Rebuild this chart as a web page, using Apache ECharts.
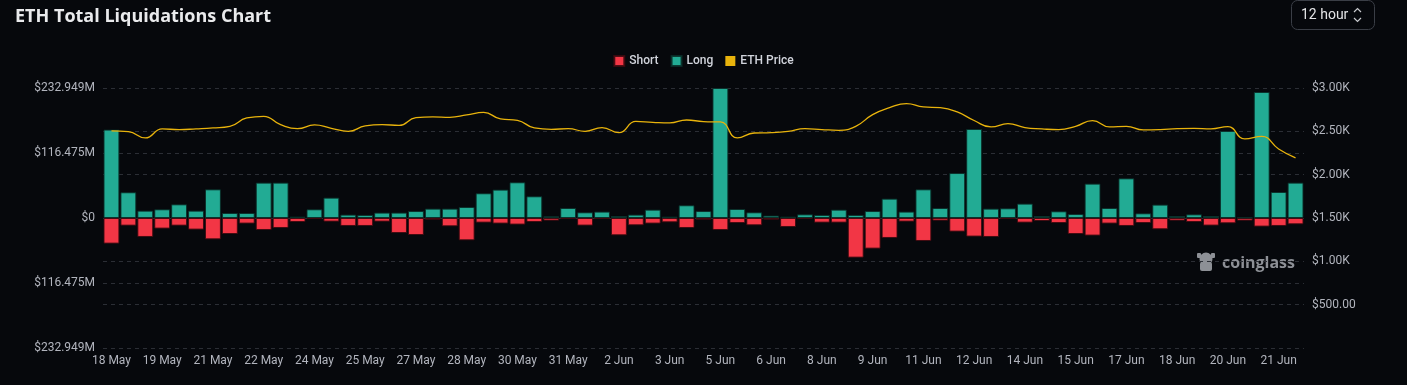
<!DOCTYPE html>
<html>
<head>
<meta charset="utf-8">
<script src="https://cdn.jsdelivr.net/npm/echarts@6/dist/echarts.min.js"></script>
<style>
html,body{margin:0;padding:0;background:#06080c;}
#c{width:1407px;height:385px;}
</style>
</head>
<body>
<div id="c"></div>
<script>
// 12-hour buckets, 18 May 00:00 -> 22 Jun 00:00 (71 bars)
const dayLabels = ["18 May","18 May","19 May","19 May","20 May","20 May","21 May","21 May","22 May","22 May",
"23 May","23 May","24 May","24 May","25 May","25 May","26 May","26 May","27 May","27 May",
"28 May","28 May","29 May","29 May","30 May","30 May","31 May","31 May","1 Jun","1 Jun",
"2 Jun","2 Jun","3 Jun","3 Jun","4 Jun","4 Jun","5 Jun","5 Jun","6 Jun","6 Jun",
"7 Jun","7 Jun","8 Jun","8 Jun","9 Jun","9 Jun","10 Jun","10 Jun","11 Jun","11 Jun",
"12 Jun","12 Jun","13 Jun","13 Jun","14 Jun","14 Jun","15 Jun","15 Jun","16 Jun","16 Jun",
"17 Jun","17 Jun","18 Jun","18 Jun","19 Jun","19 Jun","20 Jun","20 Jun","21 Jun","21 Jun","22 Jun"];
const hours = dayLabels.map((d,i)=> i%2===0 ? "00:00" : "12:00");
const categories = dayLabels.map((d,i)=> d + " " + hours[i]);
// Long liquidations (USD millions)
const longVals = [158.4,46.1,13.2,15.6,24.5,13.2,51.4,9.0,9.0,63.4,
63.4,2.5,15.6,36.5,6.1,5.5,9.7,9.7,12.5,16.8,
16.8,19.7,44.3,50.9,64.0,38.9,3.0,17.9,10.2,11.5,
3.6,6.1,15.0,2.5,22.8,12.5,232.949,16.1,10.2,4.3,
2.5,6.6,5.5,15.0,5.5,12.5,34.7,11.5,51.4,17.9,
80.6,159.5,16.8,17.4,25.8,3.6,12.0,7.2,61.6,17.9,
71.1,8.4,24.0,3.6,6.6,3.6,155.9,1.2,225.8,46.6,63.4];
// Short liquidations (USD millions, drawn below zero)
const shortVals = [45.9,13.7,34.0,19.0,13.7,20.8,38.2,28.7,10.0,21.5,
17.9,7.2,1.8,6.5,14.3,14.3,6.5,26.9,30.5,2.9,
14.9,40.0,8.3,10.0,11.8,7.2,4.7,1.8,13.6,1.8,
31.0,13.1,10.0,7.7,17.9,2.9,21.5,9.0,13.1,2.9,
16.1,1.8,8.3,8.3,71.0,54.9,35.8,6.5,41.2,4.7,
24.4,33.3,34.0,1.8,8.3,5.4,9.0,28.7,31.5,10.0,
14.3,9.0,20.2,4.7,7.2,13.6,9.5,4.7,15.4,14.3,11.3];
// ETH price (USD)
const priceVals = [2505,2497,2424,2528,2520,2528,2539,2558,2654,2673,
2577,2531,2574,2535,2500,2562,2577,2569,2658,2666,
2662,2689,2719,2643,2627,2539,2523,2531,2500,2543,
2485,2615,2604,2597,2631,2612,2608,2424,2481,2485,
2500,2531,2520,2512,2558,2693,2773,2820,2782,2773,
2724,2625,2551,2589,2543,2528,2520,2558,2623,2551,
2558,2516,2520,2531,2535,2528,2554,2412,2442,2297,2193];
const leftMax = 232.949;
const rightTicks = [0,500,1000,1500,2000,2500,3000];

const C_LONG = '#22ab94', C_SHORT = '#f23645', C_PRICE = '#e8b30c';
const chart = echarts.init(document.getElementById('c'), null, {renderer:'canvas'});
const txt = '#b2b5be';
chart.setOption({
  backgroundColor:'#06080c',
  animation:false,
  textStyle:{fontFamily:'Roboto, "DejaVu Sans", sans-serif'},
  title:{text:'ETH Total Liquidations Chart', left:10, top:3,
    textStyle:{color:'#e9eaec', fontSize:18, fontWeight:'bold', fontFamily:'"Open Sans", Roboto, sans-serif'}},
  legend:{top:50, left:'center', itemWidth:10, itemHeight:10, itemGap:12,
    icon:'rect',
    textStyle:{color:'#d1d4dc', fontSize:12, fontWeight:500},
    data:[{name:'Short', itemStyle:{color:C_SHORT}},{name:'Long', itemStyle:{color:C_LONG}},{name:'ETH Price', itemStyle:{color:C_PRICE}, icon:'rect'}]},
  grid:{left:103, right:103, top:88, bottom:37, containLabel:false},
  xAxis:{type:'category', data:categories, boundaryGap:true,
    axisLine:{show:false}, axisTick:{show:false},
    axisLabel:{interval:2, color:txt, fontSize:12, margin:7,
      formatter:v=>v.split(' ').slice(0,2).join(' ')}},
  yAxis:[
    {type:'value', min:-leftMax, max:leftMax, interval:leftMax/2, position:'left',
      axisLine:{show:false}, axisTick:{show:false},
      splitLine:{show:true, lineStyle:{color:'#2b2e35', type:[4,4], width:1}},
      axisLabel:{color:txt, fontSize:12, margin:8,
        formatter:v=> Math.abs(v)<1e-6 ? '$0' : '$'+Math.abs(v).toFixed(3)+'M'}},
    {type:'value', min:rightTicks[0], max:rightTicks[rightTicks.length-1], interval:500, position:'right',
      axisLine:{show:false}, axisTick:{show:false},
      splitLine:{show:true, lineStyle:{color:'#2b2e35', type:[4,4], width:1}},
      axisLabel:{color:txt, fontSize:12, margin:8,
        formatter:v=> v===0 ? '' : (v>=1000 ? '$'+(v/1000).toFixed(2)+'K' : '$'+v.toFixed(2))}}
  ],
  series:[
    {name:'Short', type:'bar', stack:'liq', yAxisIndex:0, barCategoryGap:'6%',
      data:shortVals.map(v=>-v),
      itemStyle:{color:C_SHORT, borderColor:'rgba(60,10,15,0.9)', borderWidth:1}},
    {name:'Long', type:'bar', stack:'liq', yAxisIndex:0, barCategoryGap:'6%',
      data:longVals,
      itemStyle:{color:C_LONG, borderColor:'rgba(10,45,40,0.9)', borderWidth:1}},
    {name:'ETH Price', type:'line', yAxisIndex:1, data:priceVals, smooth:true, symbol:'none',
      lineStyle:{color:C_PRICE, width:1.3}, itemStyle:{color:C_PRICE}, z:5}
  ],
  graphic:[
    {type:'rect', shape:{x:1291.5, y:0.5, width:83, height:29, r:6},
      style:{fill:'none', stroke:'#3a3e46', lineWidth:1}},
    {type:'text', style:{x:1301, y:15, text:'12 hour', fill:'#e3e4e6', font:'14px Roboto, sans-serif', textVerticalAlign:'middle'}},
    {type:'polyline', shape:{points:[[1354,12],[1357.5,8.5],[1361,12]]}, style:{stroke:'#c9cbcf', lineWidth:1.2, fill:'none'}},
    {type:'polyline', shape:{points:[[1354,18],[1357.5,21.5],[1361,18]]}, style:{stroke:'#c9cbcf', lineWidth:1.2, fill:'none'}},
    // coinglass watermark
    {type:'circle', shape:{cx:1206, cy:259, r:6.5}, style:{fill:'#8d9096'}},
    {type:'rect', shape:{x:1200, y:262, width:12, height:9, r:2}, style:{fill:'#8d9096'}},
    {type:'rect', shape:{x:1197, y:253, width:4, height:5, r:1}, style:{fill:'#8d9096'}},
    {type:'rect', shape:{x:1211, y:253, width:4, height:5, r:1}, style:{fill:'#8d9096'}},
    {type:'text', style:{x:1222, y:263, text:'coinglass', fill:'#8d9096', font:'bold 16px "Open Sans", Roboto, sans-serif', textVerticalAlign:'middle'}}
  ]
});
</script>
</body>
</html>
